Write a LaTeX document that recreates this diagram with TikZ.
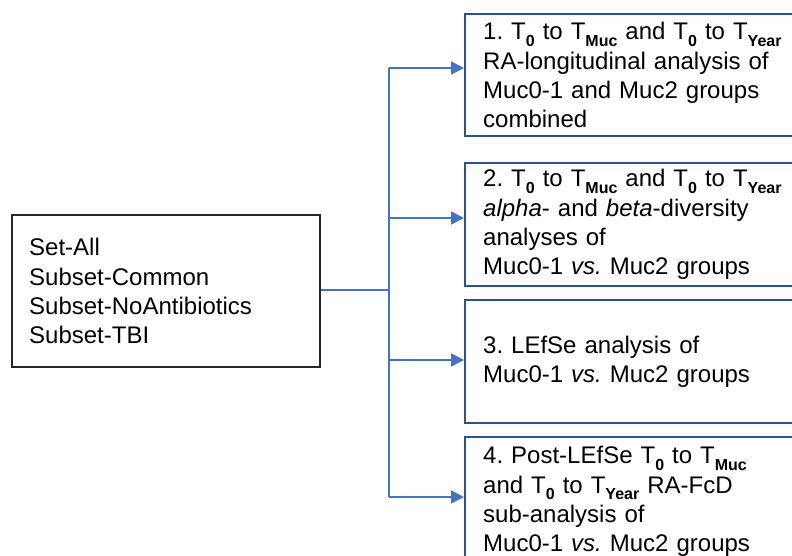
\documentclass[tikz,border=0pt]{standalone}
\usepackage{fontspec}
\setmainfont{Liberation Sans}
\usetikzlibrary{arrows.meta}
\definecolor{linkblue}{HTML}{4472C4}
\definecolor{boxblue}{HTML}{2F528F}
% bold lowered subscript
\newcommand{\tsub}[1]{\raisebox{-0.26em}{\fontsize{16}{16}\selectfont\bfseries #1}}
\begin{document}
\frenchspacing
\begin{tikzpicture}[x=1pt,y=-1pt,
  every node/.style={font=\fontsize{24}{29.3}\selectfont, align=left},
  setbox/.style={draw=black!85, line width=2.4pt, inner sep=0pt,
    minimum width=308pt, minimum height=152pt, text width=274pt, anchor=north west},
  stepbox/.style={draw=boxblue, line width=2.4pt, inner sep=0pt,
    minimum width=366pt, text width=330pt, anchor=north west},
  link/.style={draw=linkblue, line width=1.7pt},
  arr/.style={link, -{Triangle[length=13pt,width=13pt]}}]
\useasboundingbox (0,0) rectangle (792,556);
\clip (0,0) rectangle (792,556);

\node[setbox] (sets) at (11,214) {Set-All\\Subset-Common\\Subset-NoAntibiotics\\Subset-TBI};

\node[stepbox, minimum height=122pt] (b1) at (464,13)
  {1. T\tsub{0} to T\tsub{Muc} and T\tsub{0} to T\tsub{Year}\\RA-longitudinal analysis of\\Muc0-1 and Muc2 groups\\combined};
\node[stepbox, minimum height=123pt] (b2) at (464,162)
  {2. T\tsub{0} to T\tsub{Muc} and T\tsub{0} to T\tsub{Year}\\\textit{alpha}- and \textit{beta}-diversity\\analyses of\\Muc0-1 \textit{vs.} Muc2 groups};
\node[stepbox, minimum height=123pt] (b3) at (464,299)
  {3. LEfSe analysis of\\Muc0-1 \textit{vs.} Muc2 groups};
\node[stepbox, minimum height=129pt] (b4) at (464,436)
  {4. Post-LEfSe T\tsub{0} to T\tsub{Muc}\\and T\tsub{0} to T\tsub{Year} RA-FcD\\sub-analysis of\\Muc0-1 \textit{vs.} Muc2 groups};

\coordinate (j) at (389,290);
\coordinate (s1) at (389,68);
\coordinate (s2) at (389,218);
\coordinate (s3) at (389,360);
\coordinate (s4) at (389,497);

\draw[link] (sets.east |- j) -- (j);
\draw[link] (s1) -- (s4);
\draw[arr] (s1) -- (s1 -| b1.west);
\draw[arr] (s2) -- (s2 -| b2.west);
\draw[arr] (s3) -- (s3 -| b3.west);
\draw[arr] (s4) -- (s4 -| b4.west);
\end{tikzpicture}
\end{document}
